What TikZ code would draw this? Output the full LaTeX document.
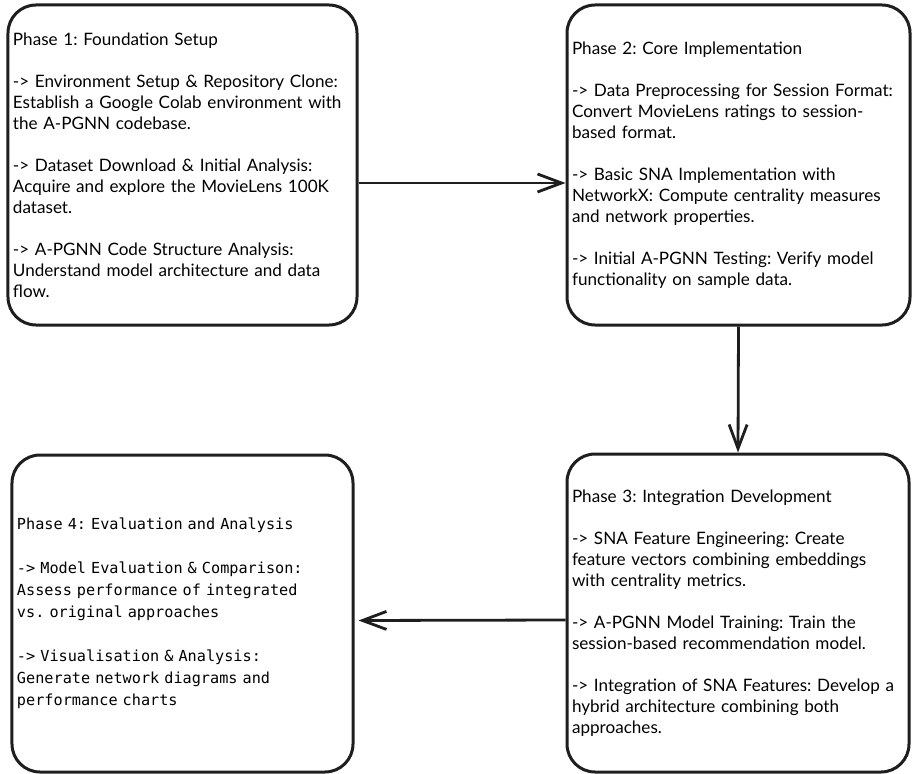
\documentclass[tikz,border=0pt]{standalone}
\usepackage{fontspec}
\setmainfont{Lato}
\setmonofont{DejaVu Sans Mono}
\usetikzlibrary{arrows.meta}
\definecolor{ink}{HTML}{1E1E1E}
\frenchspacing

\begin{document}
\begin{tikzpicture}[x=1bp,y=-1bp,
        phase/.style={draw=ink,line width=3bp,rounded corners=28bp,fill=white,
            align=left,inner xsep=5bp,inner ysep=0pt,
            font=\fontsize{17.1bp}{21bp}\selectfont},
        flow/.style={draw=ink,line width=2.8bp,-{Straight Barb[length=24bp,width=18bp]}}]
        \useasboundingbox (0,0) rectangle (913,774);

        % the four phases
        \node[phase,minimum width=349bp,minimum height=320bp,text width=339bp] (phase1) at (182.5,165) {Phase 1: Foundation Setup\\[21bp]
            -> Environment Setup \& Repository Clone:\\
            Establish a Google Colab environment with\\
            the A-PGNN codebase.\\[21bp]
            -> Dataset Download \& Initial Analysis:\\
            Acquire and explore the MovieLens 100K\\
            dataset.\\[21bp]
            -> A-PGNN Code Structure Analysis:\\
            Understand model architecture and data\\
            flow.};
        \node[phase,minimum width=343bp,minimum height=320bp,text width=333bp] (phase2) at (738.5,165) {Phase 2: Core Implementation\\[21bp]
            -> Data Preprocessing for Session Format:\\
            Convert MovieLens ratings to session-\\
            based format.\\[21bp]
            -> Basic SNA Implementation with\\
            NetworkX: Compute centrality measures\\
            and network properties.\\[21bp]
            -> Initial A-PGNN Testing: Verify model\\
            functionality on sample data.};
        \node[phase,minimum width=342bp,minimum height=318bp,text width=332bp] (phase3) at (738,613) {Phase 3: Integration Development\\[21bp]
            -> SNA Feature Engineering: Create\\
            feature vectors combining embeddings\\
            with centrality metrics.\\[21bp]
            -> A-PGNN Model Training: Train the\\
            session-based recommendation model.\\[21bp]
            -> Integration of SNA Features: Develop a\\
            hybrid architecture combining both\\
            approaches.};
        \node[phase,minimum width=341bp,minimum height=317bp,text width=331bp,
            font=\ttfamily\fontsize{15.2bp}{22bp}\selectfont] (phase4) at (182.5,613.5) {Phase 4: Evaluation and Analysis\\[22bp]
            -> Model Evaluation \& Comparison:\\
            Assess performance of integrated\\
            vs. original approaches\\[22bp]
            -> Visualisation \& Analysis:\\
            Generate network diagrams and\\
            performance charts};

        % arrows between phases
        \draw[flow] ([yshift=-18bp]phase1.east) -- ([yshift=-18bp]phase2.west);
        \draw[flow] (phase2.south) -- (phase3.north);
        \draw[flow,shorten >=4bp] ([yshift=-7bp]phase3.west) -- ([yshift=-7bp]phase4.east);
    \end{tikzpicture}
\end{document}
